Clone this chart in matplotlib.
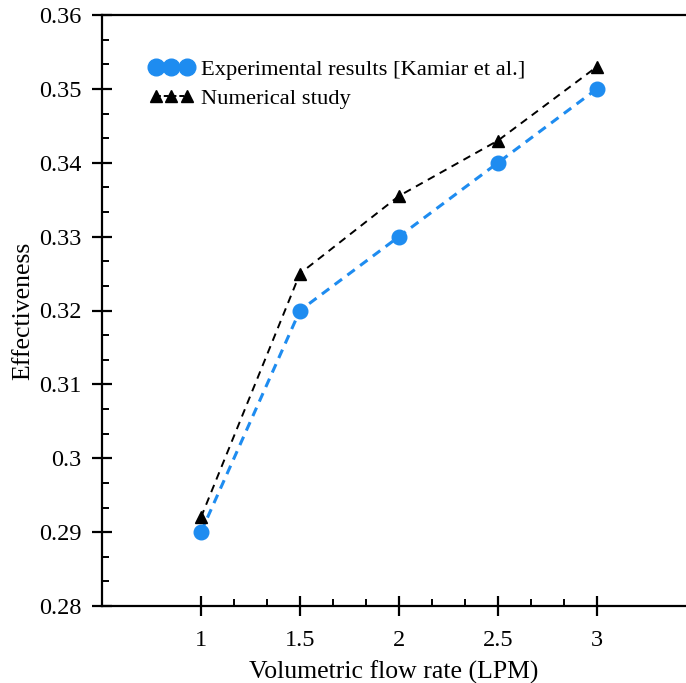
import matplotlib
matplotlib.use("Agg")
import matplotlib.pyplot as plt
from matplotlib.ticker import AutoMinorLocator, FixedLocator

plt.rcParams['font.family'] = ['Liberation Serif', 'DejaVu Serif']

flow = [1, 1.5, 2, 2.5, 3]
experimental = [0.29, 0.32, 0.33, 0.34, 0.35]
numerical = [0.292, 0.325, 0.3355, 0.343, 0.353]
xticks = [1, 1.5, 2, 2.5, 3]
yticks = [0.28, 0.29, 0.30, 0.31, 0.32, 0.33, 0.34, 0.35, 0.36]
yticklabels = ['0.28', '0.29', '0.3', '0.31', '0.32', '0.33', '0.34', '0.35', '0.36']

fig = plt.figure(figsize=(6.86, 6.83), dpi=100)
ax = fig.add_axes([102/686, 1-606/683, 1-102/686, (606-15)/683])

ax.plot(flow, experimental, ls='--', color='#1E8CF0', lw=2.2, marker='o', ms=10.5,
        dashes=(3, 2.2), label='Experimental results [Kamiar et al.]')
ax.plot(flow, numerical, ls='--', color='black', lw=1.4, marker='^', ms=8.5,
        dashes=(4, 3), label='Numerical study')

ax.set_xlim(0.5, 3.45)
ax.set_ylim(0.28, 0.36)
ax.set_xticks(xticks)
ax.set_xticklabels([str(v) for v in xticks])
ax.set_yticks(yticks)
ax.set_yticklabels(yticklabels)
# minor ticks on x only between the first and last major tick
xminor = [a + (b - a) * k / 3 for a, b in zip(xticks[:-1], xticks[1:]) for k in (1, 2)]
ax.xaxis.set_minor_locator(FixedLocator(xminor))
ax.yaxis.set_minor_locator(AutoMinorLocator(3))

ax.spines['right'].set_visible(False)
for s in ['left', 'bottom', 'top']:
    ax.spines[s].set_linewidth(1.6)
ax.tick_params(which='major', direction='inout', length=15, width=1.6,
               labelsize=17.5, pad=7)
ax.tick_params(which='minor', direction='in', length=5, width=1.4)
ax.tick_params(axis='x', pad=10)

ax.set_xlabel('Volumetric flow rate (LPM)', fontsize=18.5, labelpad=7)
ax.set_ylabel('Effectiveness', fontsize=18.5, labelpad=4)

leg = ax.legend(loc='upper left', bbox_to_anchor=(0.065, 0.94), frameon=False,
                numpoints=3, handlelength=2.0, handletextpad=0.3, fontsize=16.2,
                labelspacing=0.35, borderaxespad=0)
leg.legend_handles[0].set_markersize(12)
leg.legend_handles[1].set_markersize(8.5)
leg.legend_handles[1].set_dashes((2.5, 1.5))

fig.savefig('out.png', dpi=100)
